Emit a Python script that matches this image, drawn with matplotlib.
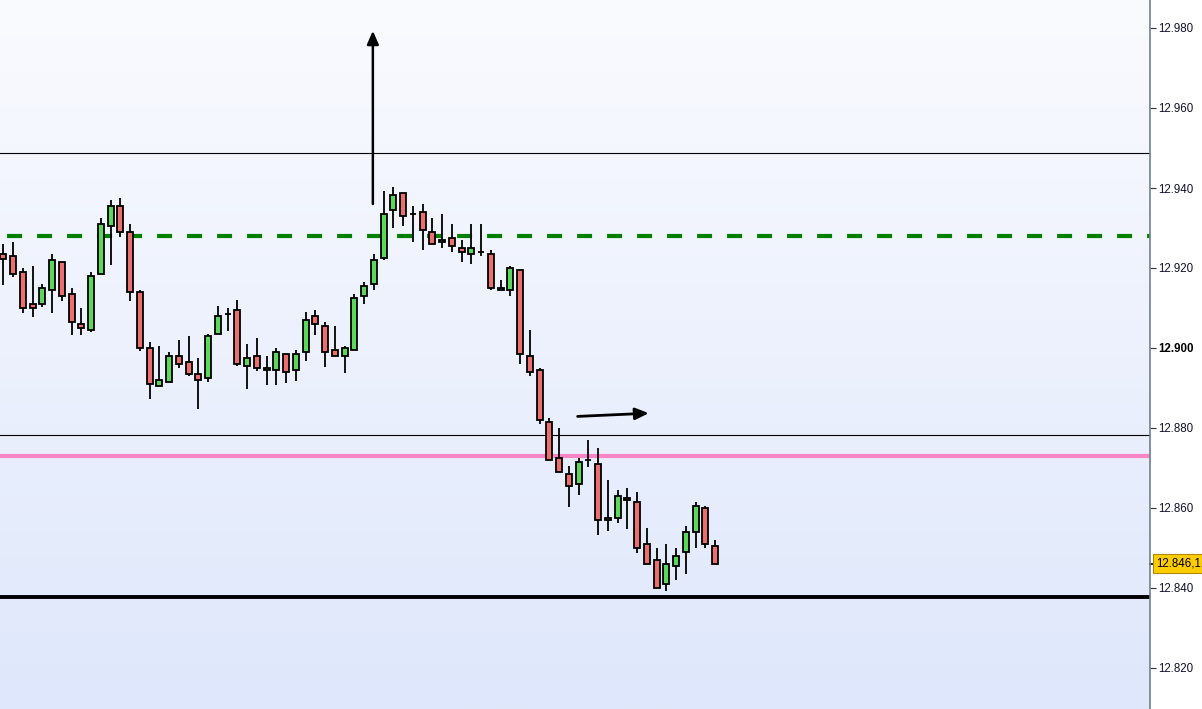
import numpy as np
import matplotlib
matplotlib.use("Agg")
import matplotlib.pyplot as plt
from matplotlib.transforms import blended_transform_factory

plt.rcParams['font.family'] = ['Liberation Sans', 'DejaVu Sans']

# ---- Data (OHLC) ----
opens = [12.9235, 12.9229, 12.9189, 12.9109, 12.9109, 12.9144, 12.9214, 12.9134, 12.9059, 12.9044,
         12.9184, 12.9304, 12.9354, 12.9289, 12.9139, 12.8999, 12.8904, 12.8914, 12.8979, 12.8964,
         12.8934, 12.8924, 12.9034, 12.9084, 12.9094, 12.8954, 12.8979, 12.8944, 12.8944, 12.8984,
         12.8944, 12.8989, 12.9079, 12.9054, 12.8994, 12.8979, 12.8994, 12.9129, 12.9159, 12.9224,
         12.9344, 12.9387, 12.9334, 12.9339, 12.9289, 12.9264, 12.9274, 12.9249, 12.9234, 12.9239,
         12.9234, 12.9144, 12.9144, 12.9194, 12.8979, 12.8944, 12.8814, 12.8724, 12.8684, 12.8659,
         12.8719, 12.8709, 12.8574, 12.8574, 12.8624, 12.8614, 12.8509, 12.8469, 12.8409, 12.8454,
         12.8489, 12.8539, 12.8599, 12.8504]
highs = [12.9260, 12.9265, 12.9199, 12.9205, 12.9160, 12.9235, 12.9214, 12.9149, 12.9099, 12.9189,
         12.9324, 12.9369, 12.9374, 12.9309, 12.9144, 12.9014, 12.9004, 12.8989, 12.9019, 12.9029,
         12.8974, 12.9034, 12.9104, 12.9099, 12.9119, 12.9009, 12.9024, 12.8979, 12.8999, 12.8984,
         12.8994, 12.9089, 12.9094, 12.9064, 12.9056, 12.9004, 12.9134, 12.9164, 12.9234, 12.9393,
         12.9403, 12.9387, 12.9354, 12.9359, 12.9324, 12.9334, 12.9309, 12.9269, 12.9309, 12.9309,
         12.9244, 12.9169, 12.9204, 12.9194, 12.9044, 12.8949, 12.8824, 12.8799, 12.8704, 12.8724,
         12.8769, 12.8749, 12.8669, 12.8644, 12.8649, 12.8639, 12.8549, 12.8499, 12.8509, 12.8499,
         12.8554, 12.8614, 12.8604, 12.8519]
lows = [12.9158, 12.9178, 12.9088, 12.9078, 12.9103, 12.9088, 12.9118, 12.9033, 12.9033, 12.9039,
        12.9184, 12.9208, 12.9278, 12.9118, 12.8993, 12.8873, 12.8904, 12.8914, 12.8949, 12.8929,
        12.8848, 12.8914, 12.9034, 12.9043, 12.8954, 12.8898, 12.8943, 12.8908, 12.8908, 12.8913,
        12.8918, 12.8968, 12.9033, 12.8953, 12.8979, 12.8938, 12.8994, 12.9109, 12.9144, 12.9219,
        12.9299, 12.9304, 12.9264, 12.9244, 12.9259, 12.9249, 12.9239, 12.9214, 12.9209, 12.9229,
        12.9144, 12.9144, 12.9129, 12.8959, 12.8929, 12.8809, 12.8719, 12.8689, 12.8603, 12.8633,
        12.8703, 12.8533, 12.8543, 12.8563, 12.8548, 12.8488, 12.8459, 12.8399, 12.8393, 12.8419,
        12.8434, 12.8499, 12.8499, 12.8459]
closes = [12.9223, 12.9184, 12.9099, 12.9099, 12.9149, 12.9219, 12.9129, 12.9064, 12.9049, 12.9179,
          12.9309, 12.9354, 12.9289, 12.9139, 12.8999, 12.8909, 12.8919, 12.8979, 12.8959, 12.8934,
          12.8919, 12.9029, 12.9079, 12.9084, 12.8959, 12.8974, 12.8949, 12.8949, 12.8989, 12.8939,
          12.8984, 12.9069, 12.9059, 12.8989, 12.8979, 12.8999, 12.9124, 12.9154, 12.9219, 12.9334,
          12.9382, 12.9329, 12.9334, 12.9294, 12.9259, 12.9269, 12.9254, 12.9239, 12.9249, 12.9239,
          12.9149, 12.9149, 12.9199, 12.8984, 12.8939, 12.8819, 12.8719, 12.8689, 12.8654, 12.8714,
          12.8719, 12.8569, 12.8569, 12.8629, 12.8619, 12.8499, 12.8459, 12.8399, 12.8459, 12.8479,
          12.8539, 12.8604, 12.8509, 12.8461]

hlines_thin = [12.94875, 12.87825]
green_level = 12.928
pink_level = 12.873
support_level = 12.83775
last_price = 12.8461
last_label = "12.846,1"

tick_values = [12.82, 12.84, 12.86, 12.88, 12.90, 12.92, 12.94, 12.96, 12.98]
tick_labels = ["12.820", "12.840", "12.860", "12.880", "12.900", "12.920", "12.940", "12.960", "12.980"]

# arrows (x in bar index units, y in price)
up_arrow = dict(x=37.9, y0=12.9360, y1=12.9793)
right_arrow = dict(x0=58.9, y0=12.8829, x1=66.2, y1=12.8837)

# ---- Figure ----
W, H = 1202, 709
fig = plt.figure(figsize=(W / 100, H / 100), dpi=100)
fig.patch.set_facecolor('white')
ax = fig.add_axes([0, 0, 1150 / W, 1])

xmin, xmax = -0.338, 117.6
ymin, ymax = 12.80975, 12.987
ax.set_xlim(xmin, xmax)
ax.set_ylim(ymin, ymax)

# background gradient
top = np.array([250, 251, 255]) / 255
bot = np.array([222, 231, 251]) / 255
t = np.linspace(0, 1, 256)[:, None]
grad = (top[None, :] * (1 - t) + bot[None, :] * t)[:, None, :]
ax.imshow(grad, extent=[xmin, xmax, ymin, ymax], aspect='auto', origin='upper', zorder=0)

# horizontal lines
for lv in hlines_thin:
    ax.axhline(lv, color='black', lw=0.8, zorder=2)
ax.axhline(green_level, color='#008000', lw=3.0, linestyle=(5.5, (3.6, 3.6)), zorder=2)
ax.axhline(pink_level, color='#F786C6', lw=3.0, zorder=2)
ax.axhline(support_level, color='black', lw=2.8, zorder=2)

# candles
n = len(opens)
x = np.arange(n)
bw = 0.62
for i in range(n):
    o, h, l, c = opens[i], highs[i], lows[i], closes[i]
    up = c >= o
    col = '#5ED65E' if up else '#EA6F6F'
    ax.vlines(x[i], l, h, color='black', lw=1.3, zorder=3)
    lo_, hi_ = min(o, c), max(o, c)
    if hi_ - lo_ < 0.00012:
        ax.hlines((o + c) / 2, x[i] - bw / 2, x[i] + bw / 2, color='black', lw=1.3, zorder=4)
    else:
        ax.add_patch(plt.Rectangle((x[i] - bw / 2, lo_), bw, hi_ - lo_, facecolor=col,
                                   edgecolor='black', lw=1.3, zorder=4))

# arrows
ax.annotate('', xy=(up_arrow['x'], up_arrow['y1']), xytext=(up_arrow['x'], up_arrow['y0']),
            arrowprops=dict(arrowstyle='-|>,head_length=0.8,head_width=0.35', color='black', lw=1.8,
                            shrinkA=0, shrinkB=0), zorder=5)
ax.annotate('', xy=(right_arrow['x1'], right_arrow['y1']), xytext=(right_arrow['x0'], right_arrow['y0']),
            arrowprops=dict(arrowstyle='-|>,head_length=0.8,head_width=0.35', color='black', lw=2.0,
                            shrinkA=0, shrinkB=0), zorder=5)

# axes styling
for s in ['left', 'top', 'bottom']:
    ax.spines[s].set_visible(False)
ax.spines['right'].set_color('#708090')
ax.spines['right'].set_linewidth(1.2)
ax.set_xticks([])
ax.yaxis.tick_right()
ax.set_yticks(tick_values)
ax.set_yticklabels(tick_labels)
ax.tick_params(axis='y', direction='out', length=4, width=0.8, color='#333333',
               labelsize=8.3, labelcolor='#10102a', pad=2)
for lbl in ax.get_yticklabels():
    if lbl.get_text() == "12.900":
        lbl.set_fontweight('bold')
        lbl.set_color('black')

# last price label
tr = blended_transform_factory(ax.transAxes, ax.transData)
ax.plot([1.0, 1.0045], [last_price, last_price], transform=tr, color='black', lw=1.2, clip_on=False)
ax.text(1.0058, last_price, last_label, transform=tr, ha='left', va='center', fontsize=8.3,
        color='black', clip_on=False,
        bbox=dict(boxstyle='square,pad=0.28', facecolor='#FFCC00', edgecolor='#B08A00', lw=0.8))

fig.savefig('out.png', dpi=100)
